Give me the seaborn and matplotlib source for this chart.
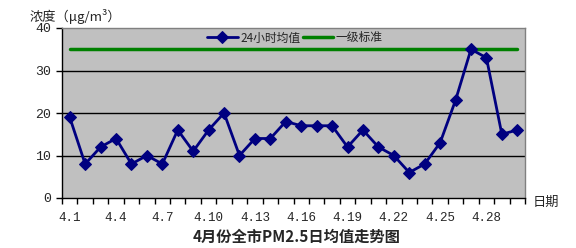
import matplotlib
matplotlib.use("Agg")
import matplotlib.pyplot as plt
import seaborn as sns
import pandas as pd
import numpy as np

days = [f"4.{i}" for i in range(1, 31)]
pm25 = [19, 8, 12, 14, 8, 10, 8, 16, 11, 16, 20, 10, 14, 14, 18,
        17, 17, 17, 12, 16, 12, 10, 6, 8, 13, 23, 35, 33, 15, 16]
standard = [35] * 30
yticks = [0, 10, 20, 30, 40]

sns.set_theme(style="white")
plt.rcParams['font.family'] = ['Noto Sans CJK SC', 'DejaVu Sans']

df = pd.DataFrame({"idx": np.arange(len(days)), "day": days, "pm": pm25, "std": standard})

fig = plt.figure(figsize=(5.76, 2.48), dpi=100)
ax = fig.add_axes([62/576, 1 - 198/248, (525-62)/576, (198-28)/248])
ax.set_facecolor("#C0C0C0")

for v in [10, 20, 30]:
    ax.axhline(v, color="black", lw=1, zorder=1)

sns.lineplot(data=df, x="idx", y="std", ax=ax, color="#008000", lw=2.5,
             label="一级标准", zorder=2)
sns.lineplot(data=df, x="idx", y="pm", ax=ax, color="#000080", lw=2,
             marker="D", markersize=6, markeredgecolor="#000080",
             label="24小时均值", zorder=3)

ax.set_xlim(-0.5, len(days) - 0.5)
ax.set_ylim(0, 40)
ax.set_yticks(yticks)
ax.set_yticklabels([str(v) for v in yticks], fontsize=9.5, family=['Liberation Mono'])
ax.set_xticks(np.arange(0, 30, 3))
ax.set_xticklabels(days[::3], fontsize=9, family=['Liberation Mono'])
ax.set_xticks(np.arange(-0.5, 30, 1), minor=True)
ax.tick_params(axis='x', which='major', length=0, pad=10)
ax.tick_params(axis='x', which='minor', length=4, width=1, color='black', direction='out', bottom=True)
ax.tick_params(axis='y', length=4, width=1, color='black', direction='out', left=True, pad=4)
ax.set_xlabel("")
ax.set_ylabel("")

for s in ["left", "bottom"]:
    ax.spines[s].set_color("black")
    ax.spines[s].set_linewidth(1)
for s in ["top", "right"]:
    ax.spines[s].set_color("#808080")
    ax.spines[s].set_linewidth(1)

h, l = ax.get_legend_handles_labels()
leg = ax.legend(h[::-1], l[::-1], loc="center left", bbox_to_anchor=((207-62)/463, (198-38)/170),
                ncol=2, frameon=False, fontsize=8.5, handlelength=2.6, columnspacing=0.2,
                handletextpad=0.2, borderaxespad=0, borderpad=0)

fig.text(30/576, 1 - 17/248, "浓度（μg/m³）", fontsize=9.5, va="center", ha="left")
fig.text(533/576, 1 - 202/248, "日期", fontsize=9.5, va="center", ha="left")
fig.text(297/576, 1 - 237/248, "4月份全市PM2.5日均值走势图", fontsize=11, fontweight="bold",
         va="center", ha="center")

fig.savefig("out.png", dpi=100)
